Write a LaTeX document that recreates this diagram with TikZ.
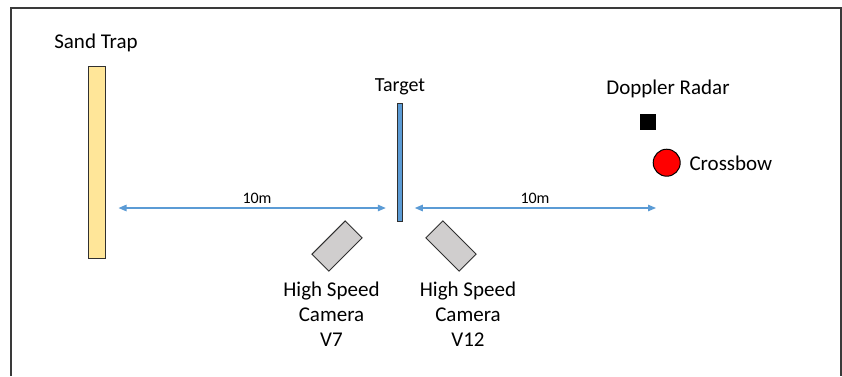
\documentclass[tikz,border=0pt]{standalone}
\usepackage{fontspec}
\setmainfont{Carlito}
\usetikzlibrary{arrows.meta}

\definecolor{framegray}{HTML}{3A3A3A}
\definecolor{dimblue}{HTML}{5B9BD5}
\definecolor{sandfill}{HTML}{FFE699}
\definecolor{targetfill}{HTML}{5B9BD5}
\definecolor{camfill}{HTML}{D0CECE}
\definecolor{edgegray}{HTML}{303030}

\tikzset{
  lbl/.style={font=\fontsize{21}{25.3}\selectfont, inner sep=0pt, anchor=base, align=center},
  dimlbl/.style={font=\fontsize{16}{19}\selectfont, inner sep=0pt, anchor=base},
  dimline/.style={draw=dimblue, line width=1.2pt,
    {Triangle[length=8pt,width=6.5pt]}-{Triangle[length=8pt,width=6.5pt]}},
  camera/.style={draw=edgegray, line width=1pt, fill=camfill,
    minimum width=46pt, minimum height=24pt, inner sep=0pt},
}

\begin{document}
\begin{tikzpicture}[x=1pt, y=1pt]
  \useasboundingbox (0,0) rectangle (842,-376);

  % outer frame, open at the bottom
  \draw[framegray, line width=1.5pt] (11,-376) -- (11,-8) -- (841,-8) -- (841,-376);

  % sand trap
  \node[draw=edgegray, line width=1pt, fill=sandfill, minimum width=17pt,
        minimum height=192pt, inner sep=0pt] (sand) at (96.5,-162) {};
  \node[lbl] (sandlbl) at (96,-48) {Sand Trap};

  % target
  \node[draw=edgegray, line width=1pt, fill=targetfill, minimum width=5pt,
        minimum height=118pt, inner sep=0pt] (target) at (399.8,-162) {};
  \node[lbl, font=\fontsize{20}{24}\selectfont] (targetlbl) at (400,-91.5) {Target};

  % high speed cameras (label anchor sits on the last line's baseline)
  \node[camera, minimum width=47pt, rotate=45] (camV7) at (337,-246) {};
  \node[camera, minimum width=47pt, rotate=-45] (camV12) at (451,-246) {};
  \node[lbl] (camV7lbl) at (331.5,-346.7) {High Speed\\Camera\\V7};
  \node[lbl] (camV12lbl) at (468,-346.7) {High Speed\\Camera\\V12};

  % doppler radar and crossbow
  \node[fill=black, minimum size=16pt, inner sep=0pt] (radar) at (647.5,-121.7) {};
  \node[lbl] (radarlbl) at (668,-94) {Doppler Radar};
  \node[circle, draw=black, line width=1pt, fill=red, minimum size=27pt,
        inner sep=0pt] (crossbow) at (666.7,-162.7) {};
  \node[lbl, anchor=base west] (crossbowlbl) at (689.3,-170) {Crossbow};

  % distance markers
  \coordinate (launch) at (656,-208);
  \draw[dimline] (sand.east |- launch) ++(13,0) coordinate (d1a)
    -- ([xshift=-11pt]target.west |- launch) coordinate (d1b);
  \node[dimlbl] (dist1) at (257,-203) {10m};
  \draw[dimline] ([xshift=12pt]target.east |- launch) coordinate (d2a) -- (launch);
  \node[dimlbl] (dist2) at (535,-203) {10m};
\end{tikzpicture}
\end{document}
